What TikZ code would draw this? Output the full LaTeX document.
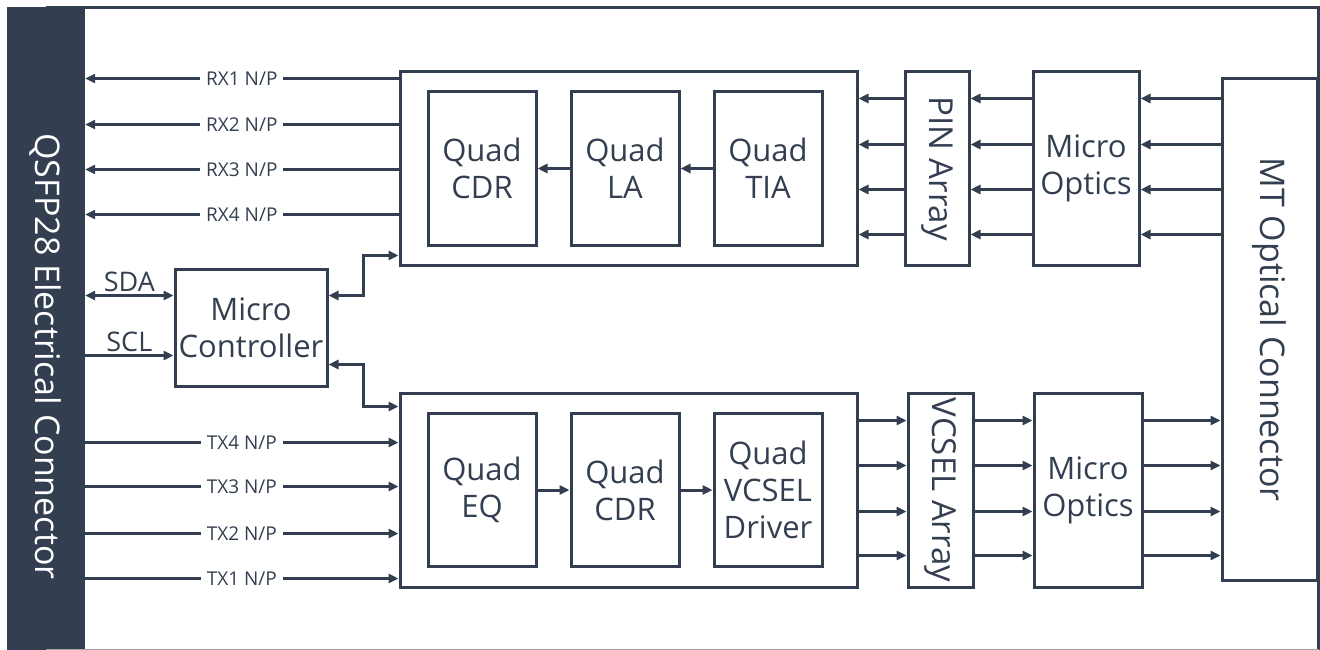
\documentclass[tikz,border=0pt]{standalone}
\usepackage{fontspec}
\setmainfont{Open Sans}
\usetikzlibrary{arrows.meta, positioning, calc}
\definecolor{slate}{HTML}{333F50}
\definecolor{rim}{HTML}{A6A6A6}
\newcommand\boxfont{\fontsize{31}{37}\selectfont}
\newcommand\sidefont{\fontsize{34}{40}\selectfont}
\newcommand\busfont{\fontsize{27}{30}\selectfont}
\newcommand\sigfont{\fontsize{19}{22}\selectfont}

\begin{document}
\begin{tikzpicture}[
  x=1pt, y=-1pt,
  every node/.style={text=slate},
  block/.style={draw=slate, line width=3pt, inner sep=0pt, align=center,
                font=\boxfont},
  unit/.style={block, minimum width=108pt, minimum height=153pt},
  sig/.style={fill=white, inner xsep=6pt, inner ysep=1pt, font=\sigfont},
  arr/.style={-{Triangle[length=10pt, width=9pt]}, draw=slate, line width=3pt},
  biarr/.style={{Triangle[length=10pt, width=9pt]}-{Triangle[length=10pt, width=9pt]},
                draw=slate, line width=3pt}
]
  \useasboundingbox (0,0) rectangle (1320,650);

  % Left: electrical connector
  \node[fill=slate, minimum width=78pt, minimum height=642pt, inner sep=0pt]
    (qsfp) at (46,328.5) {};
  \node[text=white, font=\sidefont, inner sep=0pt] (qsfptext)
    at ([yshift=-28pt]qsfp.center) {\rotatebox{-90}{QSFP28 Electrical Connector}};

  % Receive chain
  \node[block, minimum width=457pt, minimum height=193pt] (rxbox) at (628.5,168.5) {};
  \node[unit, right=28pt of rxbox.west] (rxcdr) {Quad\\CDR};
  \node[unit, right=32pt of rxcdr] (rxla) {Quad\\LA};
  \node[unit, right=32pt of rxla] (rxtia) {Quad\\TIA};
  \node[block, minimum width=64pt, minimum height=193pt, right=45pt of rxbox,
        font=\fontsize{33}{38}\selectfont]
    (pin) {\rotatebox{-90}{PIN Array}};
  \node[block, minimum width=106pt, minimum height=193pt, right=61pt of pin]
    (optrx) {Micro\\Optics};

  % Transmit chain
  \node[block, minimum width=457pt, minimum height=194pt] (txbox) at (628.5,490) {};
  \node[unit, right=28pt of txbox.west] (txeq) {Quad\\EQ};
  \node[unit, right=32pt of txeq] (txcdr) {Quad\\CDR};
  \node[unit, right=32pt of txcdr] (txdrv) {Quad\\VCSEL\\Driver};
  \node[block, minimum width=65pt, minimum height=194pt, right=48pt of txbox,
        font=\fontsize{33}{38}\selectfont]
    (vcsel) {\rotatebox{-90}{VCSEL Array}};
  \node[block, minimum width=108pt, minimum height=194pt, right=58pt of vcsel]
    (opttx) {Micro\\Optics};

  % Right: optical connector
  \node[block, minimum width=95pt, minimum height=501pt, font=\sidefont]
    (mt) at (1269.5,329.5) {\rotatebox{-90}{MT Optical Connector}};

  % Controller
  \node[block, minimum width=152pt, minimum height=117pt] (mc) at (251,327.5)
    {Micro\\Controller};

  % Frame
  \draw[slate, line width=3pt] (qsfp.north) -| (mt.east |- qsfp.south);
  \draw[rim, line width=1.5pt] (qsfp.south) -- (mt.east |- qsfp.south);

  % Arrows -- receive lanes
  \foreach \i/\dy in {1/8, 2/54, 3/99, 4/144} {
    \coordinate (rx\i) at ([yshift=-\dy pt]rxbox.north west);
    \draw[arr] (rx\i) -- (rx\i -| qsfp.east) node[midway, sig] {RX\i{} N/P};
  }
  \foreach \dy in {28, 74, 119, 164} {
    \coordinate (ro) at ([yshift=-\dy pt]pin.north);
    \draw[arr] (ro -| mt.west) -- (ro -| optrx.east);
    \draw[arr] (ro -| optrx.west) -- (ro -| pin.east);
    \draw[arr] (ro -| pin.west) -- (ro -| rxbox.east);
  }
  \draw[arr] (rxtia) -- (rxla);
  \draw[arr] (rxla) -- (rxcdr);

  % Arrows -- transmit lanes
  \foreach \i/\dy in {4/51, 3/95, 2/142, 1/187} {
    \coordinate (tx\i) at ([yshift=-\dy pt]txbox.north west);
    \draw[arr] (tx\i -| qsfp.east) -- (tx\i) node[midway, sig] {TX\i{} N/P};
  }
  \foreach \dy in {29, 74, 120, 164} {
    \coordinate (to) at ([yshift=-\dy pt]vcsel.north);
    \draw[arr] (to -| txbox.east) -- (to -| vcsel.west);
    \draw[arr] (to -| vcsel.east) -- (to -| opttx.west);
    \draw[arr] (to -| opttx.east) -- (to -| mt.west);
  }
  \draw[arr] (txeq) -- (txcdr);
  \draw[arr] (txcdr) -- (txdrv);

  % Management bus
  \coordinate (sda) at ([yshift=-28pt]mc.north west);
  \coordinate (scl) at ([yshift=-88pt]mc.north west);
  \draw[biarr] (sda -| qsfp.east) -- (sda)
    node[midway, above, inner sep=2pt, font=\busfont] {SDA};
  \draw[arr] (scl -| qsfp.east) -- (scl)
    node[midway, above, inner sep=2pt, font=\busfont] {SCL};

  \coordinate (bend) at ($(mc.east)!0.5!(rxbox.west)$);
  \coordinate (mcup) at ([yshift=-28pt]mc.north east);
  \coordinate (mclo) at ([yshift=-97pt]mc.north east);
  \coordinate (busup) at ([yshift=11pt]rxbox.south west);
  \coordinate (buslo) at ([yshift=-15pt]txbox.north west);
  \draw[biarr] (mcup) -- (mcup -| bend) |- (busup);
  \draw[biarr] (mclo) -- (mclo -| bend) |- (buslo);
\end{tikzpicture}
\end{document}
